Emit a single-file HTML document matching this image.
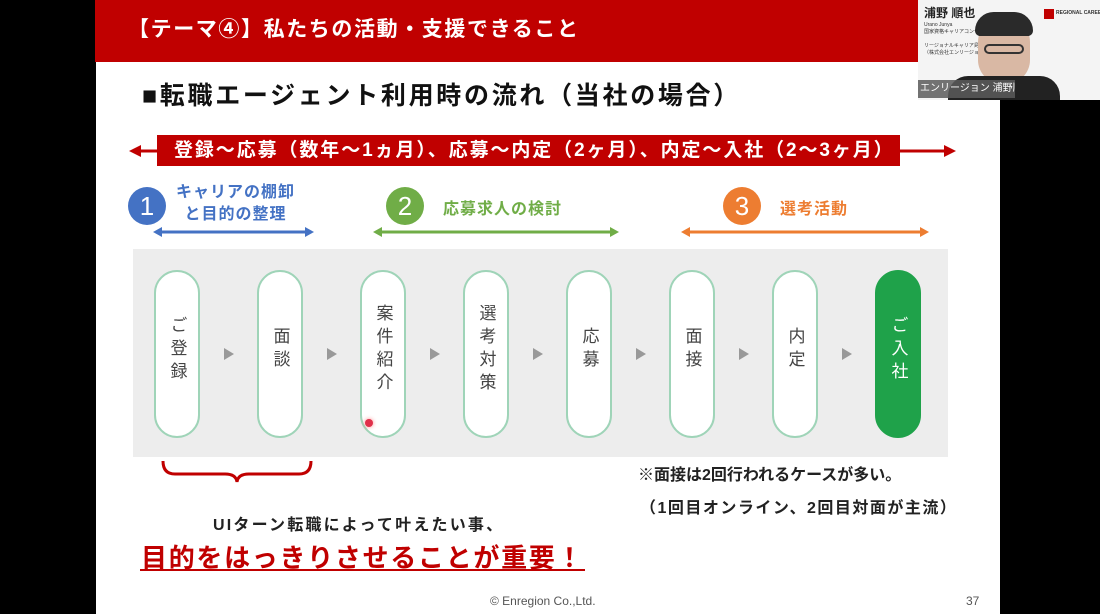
<!DOCTYPE html>
<html><head><meta charset="utf-8"><style>
*{margin:0;padding:0;box-sizing:border-box}
body{width:1100px;height:614px;background:#000;position:relative;overflow:hidden;font-family:"Liberation Sans","Noto Sans CJK JP",sans-serif}
.a{position:absolute;white-space:nowrap}
.pill{position:absolute;top:270px;width:46px;height:168px;border:2px solid #9fd4b8;border-radius:23px;background:#fff;display:flex;align-items:center;justify-content:center;padding-bottom:8px}
.pill span{writing-mode:vertical-rl;font-size:17px;color:#444;letter-spacing:6px}
.tri{position:absolute;top:348px;width:0;height:0;border-left:10px solid #999;border-top:6px solid transparent;border-bottom:6px solid transparent}
.c{position:absolute;width:38px;height:38px;border-radius:50%;color:#fff;font-size:26px;text-align:center;line-height:38px}
</style></head><body>
<div class="a" style="left:96px;top:0;width:904px;height:614px;background:#fff"></div>
<div class="a" style="left:95px;top:0;width:823px;height:62px;background:#c00000"></div>
<div class="a" style="left:128px;top:13px;color:#fff;font-size:21px;font-weight:bold;letter-spacing:1.6px">【テーマ④】私たちの活動・支援できること</div>
<!-- webcam -->
<div class="a" style="left:918px;top:0;width:182px;height:100px;background:#f4f4f4;overflow:hidden">
 <div class="a" style="left:6px;top:4px;font-size:12px;font-weight:bold;color:#222">浦野 順也</div>
 <div class="a" style="left:6px;top:22px;font-size:5px;color:#333;line-height:7px">Urano Junya<br>国家資格キャリアコンサルタント<br><br>リージョナルキャリア島根<br>（株式会社エンリージョン）</div>
 <div class="a" style="left:126px;top:9px;width:10px;height:10px;background:#c00000"></div>
 <div class="a" style="left:138px;top:10px;font-size:5px;font-weight:bold;color:#333">REGIONAL CAREER</div>
 <div class="a" style="left:60px;top:18px;width:52px;height:66px;border-radius:24px;background:#d9b8a4"></div>
 <div class="a" style="left:57px;top:12px;width:58px;height:24px;border-radius:28px 28px 8px 8px;background:#2a2a2a"></div>
 <div class="a" style="left:66px;top:44px;width:40px;height:10px;border:2px solid #333;border-radius:5px"></div>
 <div class="a" style="left:30px;top:76px;width:112px;height:30px;border-radius:20px 20px 0 0;background:#222"></div>
 <div class="a" style="left:0;top:80px;width:97px;height:18px;background:rgba(90,90,90,.85);color:#fff;font-size:10px;line-height:18px;padding-left:2px;overflow:hidden">エンリージョン 浦野順…</div>
</div>
<div class="a" style="left:142px;top:76px;font-size:25px;font-weight:bold;color:#111;letter-spacing:2.7px">■転職エージェント利用時の流れ（当社の場合）</div>
<svg class="a" style="left:0;top:0" width="1000" height="614">
 <line x1="134" y1="151" x2="952" y2="151" stroke="#c00000" stroke-width="3"/>
 <polygon points="129,151 141,145 141,157" fill="#c00000"/>
 <polygon points="956,151 944,145 944,157" fill="#c00000"/>
 <g stroke-width="3">
 <line x1="160" y1="232" x2="308" y2="232" stroke="#4472c4"/>
 <line x1="380" y1="232" x2="613" y2="232" stroke="#70ad47"/>
 <line x1="688" y1="232" x2="923" y2="232" stroke="#ed7d31"/>
 </g>
 <polygon points="153,232 162,227 162,237" fill="#4472c4"/><polygon points="314,232 305,227 305,237" fill="#4472c4"/>
 <polygon points="373,232 382,227 382,237" fill="#70ad47"/><polygon points="619,232 610,227 610,237" fill="#70ad47"/>
 <polygon points="681,232 690,227 690,237" fill="#ed7d31"/><polygon points="929,232 920,227 920,237" fill="#ed7d31"/>
 <path d="M163 461 Q163 474 175 474 L225 474 Q236 474 237 482 Q238 474 249 474 L299 474 Q311 474 311 461" fill="none" stroke="#c00000" stroke-width="3"/>
 <line x1="140" y1="570" x2="585" y2="570" stroke="#c00000" stroke-width="2"/>
</svg>
<div class="a" style="left:157px;top:135px;width:743px;height:31px;background:#c00000"></div>
<div class="a" style="left:174px;top:136px;color:#fff;font-size:19px;line-height:29px;font-weight:bold;letter-spacing:1.9px">登録～応募（数年～1ヵ月）、応募～内定（2ヶ月）、内定～入社（2～3ヶ月）</div>
<div class="c" style="left:128px;top:187px;background:#4472c4">1</div>
<div class="a" style="left:176px;top:182px;color:#4472c4;font-size:16px;font-weight:bold;line-height:22px;text-align:center;letter-spacing:1px">キャリアの棚卸<br>と目的の整理</div>
<div class="c" style="left:386px;top:187px;background:#70ad47">2</div>
<div class="a" style="left:443px;top:195px;color:#70ad47;font-size:16px;font-weight:bold;letter-spacing:1px">応募求人の検討</div>
<div class="c" style="left:723px;top:187px;background:#ed7d31">3</div>
<div class="a" style="left:780px;top:195px;color:#ed7d31;font-size:16px;font-weight:bold;letter-spacing:1px">選考活動</div>
<div class="a" style="left:133px;top:249px;width:815px;height:208px;background:#ededed"></div>
<div class="pill" style="left:154px"><span>ご登録</span></div>
<div class="pill" style="left:257px"><span>面談</span></div>
<div class="pill" style="left:360px"><span>案件紹介</span></div>
<div class="pill" style="left:463px"><span>選考対策</span></div>
<div class="pill" style="left:566px"><span>応募</span></div>
<div class="pill" style="left:669px"><span>面接</span></div>
<div class="pill" style="left:772px"><span>内定</span></div>
<div class="pill" style="left:875px;background:#1fa24a;border-color:#1fa24a"><span style="color:#fff">ご入社</span></div>
<div class="tri" style="left:224px"></div><div class="tri" style="left:327px"></div><div class="tri" style="left:430px"></div><div class="tri" style="left:533px"></div><div class="tri" style="left:636px"></div><div class="tri" style="left:739px"></div><div class="tri" style="left:842px"></div>
<div class="a" style="left:365px;top:419px;width:8px;height:8px;border-radius:50%;background:#e0304a;box-shadow:0 0 4px #f88"></div>
<div class="a" style="left:638px;top:461px;font-size:16px;font-weight:bold;color:#222">※面接は2回行われるケースが多い。</div>
<div class="a" style="left:640px;top:494px;font-size:16px;font-weight:bold;color:#222;letter-spacing:1.5px">（1回目オンライン、2回目対面が主流）</div>
<div class="a" style="left:213px;top:511px;font-size:16px;font-weight:bold;color:#222;letter-spacing:2.2px">UIターン転職によって叶えたい事、</div>
<div class="a" style="left:141px;top:538px;font-size:26px;font-weight:bold;color:#c00000;letter-spacing:1.7px">目的をはっきりさせることが重要！</div>
<div class="a" style="left:490px;top:594px;font-size:12px;color:#555">© Enregion Co.,Ltd.</div>
<div class="a" style="left:966px;top:594px;font-size:12px;color:#555">37</div>
</body></html>
